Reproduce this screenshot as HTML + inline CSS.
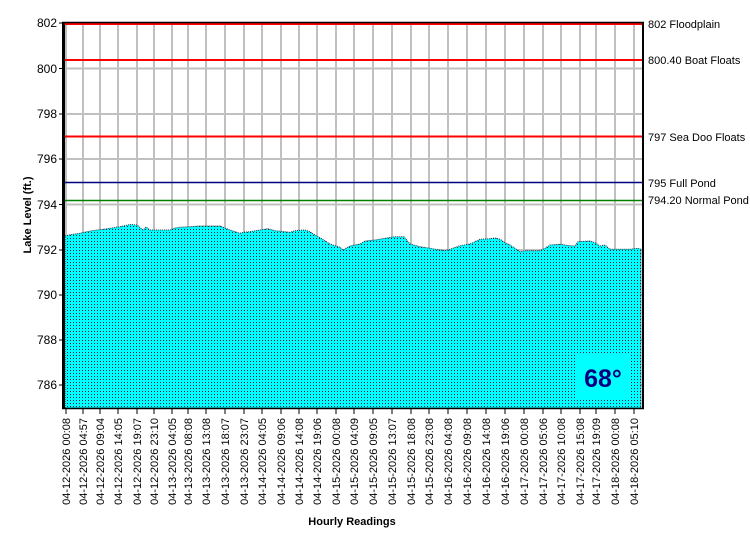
<!DOCTYPE html>
<html><head><meta charset="utf-8"><style>
html,body{margin:0;padding:0;background:#fff;}
svg{display:block;font-family:"Liberation Sans",Arial,sans-serif;}
</style></head><body>
<svg width="750" height="550" viewBox="0 0 750 550" xmlns="http://www.w3.org/2000/svg">
<defs>
<pattern id="dots" x="0" y="0" width="3" height="3" patternUnits="userSpaceOnUse">
<rect x="0" y="0" width="3" height="3" fill="#00ffff"/>
<rect x="1" y="1" width="1" height="1" fill="#102040"/>
</pattern>
</defs>
<!-- gridlines -->
<g stroke="#c0c0c0" stroke-width="2">
<line x1="64" y1="68.5" x2="642" y2="68.5"/>
<line x1="64" y1="114" x2="642" y2="114"/>
<line x1="64" y1="159" x2="642" y2="159"/>
<line x1="64" y1="204.5" x2="642" y2="204.5"/>
<line x1="64" y1="250" x2="642" y2="250"/>
<line x1="64" y1="295" x2="642" y2="295"/>
<line x1="64" y1="340" x2="642" y2="340"/>
<line x1="64" y1="385" x2="642" y2="385"/>
</g>
<g stroke="#c0c0c0" stroke-width="2">
<line x1="66" y1="23" x2="66" y2="408"/><line x1="83" y1="23" x2="83" y2="408"/><line x1="100" y1="23" x2="100" y2="408"/><line x1="118" y1="23" x2="118" y2="408"/><line x1="137" y1="23" x2="137" y2="408"/><line x1="154" y1="23" x2="154" y2="408"/><line x1="172" y1="23" x2="172" y2="408"/><line x1="188" y1="23" x2="188" y2="408"/><line x1="206" y1="23" x2="206" y2="408"/><line x1="225" y1="23" x2="225" y2="408"/><line x1="244" y1="23" x2="244" y2="408"/><line x1="262" y1="23" x2="262" y2="408"/><line x1="281" y1="23" x2="281" y2="408"/><line x1="299" y1="23" x2="299" y2="408"/><line x1="317" y1="23" x2="317" y2="408"/><line x1="336" y1="23" x2="336" y2="408"/><line x1="354" y1="23" x2="354" y2="408"/><line x1="373" y1="23" x2="373" y2="408"/><line x1="392" y1="23" x2="392" y2="408"/><line x1="411" y1="23" x2="411" y2="408"/><line x1="429" y1="23" x2="429" y2="408"/><line x1="448" y1="23" x2="448" y2="408"/><line x1="467" y1="23" x2="467" y2="408"/><line x1="486" y1="23" x2="486" y2="408"/><line x1="505" y1="23" x2="505" y2="408"/><line x1="524" y1="23" x2="524" y2="408"/><line x1="543" y1="23" x2="543" y2="408"/><line x1="561" y1="23" x2="561" y2="408"/><line x1="580" y1="23" x2="580" y2="408"/><line x1="596" y1="23" x2="596" y2="408"/><line x1="615" y1="23" x2="615" y2="408"/><line x1="634" y1="23" x2="634" y2="408"/>
</g>
<!-- area -->
<path fill="url(#dots)" stroke="#203040" stroke-width="1" stroke-dasharray="1,1" d="M65,408 L65,236 L70,234.7 L80,233.3 L90,231 L100,229.7 L110,228.3 L120,226.7 L130,224.5 L137,225 L143,230 L146,227 L150,230 L170,230 L175,228 L180,227.3 L190,226.7 L200,226 L220,226 L230,230 L240,233.3 L245,232 L250,231.7 L260,230 L268,228.7 L275,230.7 L290,232.3 L295,230.7 L305,230 L310,231.7 L315,235 L320,237.7 L330,244 L340,247.3 L343,250 L350,246 L360,244 L365,241 L375,240 L385,238.3 L395,236.7 L404,236.7 L410,244 L420,246.7 L430,248.3 L440,250 L445,250.7 L450,249.3 L460,245.7 L470,244 L480,239.3 L490,238.7 L495,238 L500,239.3 L505,242.7 L510,245 L515,248.3 L520,251.7 L525,250.7 L540,250.7 L545,248.3 L550,245 L560,244.3 L570,245.7 L575,246 L578,241.7 L590,241 L595,242.7 L600,246 L605,245 L610,249.3 L630,249.3 L638,248.3 L641,249.3 L641,408 Z"/>
<!-- reference lines -->
<line x1="64" y1="24" x2="642" y2="24" stroke="#ff0000" stroke-width="2"/>
<line x1="64" y1="60" x2="642" y2="60" stroke="#ff0000" stroke-width="2"/>
<line x1="64" y1="136.5" x2="642" y2="136.5" stroke="#ff0000" stroke-width="2"/>
<line x1="64" y1="182.5" x2="642" y2="182.5" stroke="#000080" stroke-width="1.5"/>
<line x1="64" y1="200.5" x2="642" y2="200.5" stroke="#008000" stroke-width="1.5"/>
<!-- temp box -->
<rect x="576" y="353" width="53" height="45" fill="#00ffff"/>
<text x="603" y="387" text-anchor="middle" font-size="25" font-weight="bold" fill="#000080">68°</text>
<!-- frame -->
<line x1="63.5" y1="22" x2="63.5" y2="409" stroke="#000" stroke-width="3"/>
<line x1="643" y1="22" x2="643" y2="409" stroke="#000" stroke-width="2"/>
<line x1="62" y1="22.5" x2="644" y2="22.5" stroke="#000" stroke-width="1.5"/>
<line x1="62" y1="408.5" x2="644" y2="408.5" stroke="#000" stroke-width="1.5"/>
<!-- y ticks -->
<g stroke="#000" stroke-width="1">
<line x1="59" y1="23" x2="62" y2="23"/><line x1="59" y1="68.5" x2="62" y2="68.5"/><line x1="59" y1="114" x2="62" y2="114"/><line x1="59" y1="159" x2="62" y2="159"/><line x1="59" y1="204.5" x2="62" y2="204.5"/><line x1="59" y1="250" x2="62" y2="250"/><line x1="59" y1="295" x2="62" y2="295"/><line x1="59" y1="340" x2="62" y2="340"/><line x1="59" y1="385" x2="62" y2="385"/>
</g>
<!-- x ticks -->
<g stroke="#000" stroke-width="1">
<path d="M66,409v5M83,409v5M100,409v5M118,409v5M137,409v5M154,409v5M172,409v5M188,409v5M206,409v5M225,409v5M244,409v5M262,409v5M281,409v5M299,409v5M317,409v5M336,409v5M354,409v5M373,409v5M392,409v5M411,409v5M429,409v5M448,409v5M467,409v5M486,409v5M505,409v5M524,409v5M543,409v5M561,409v5M580,409v5M596,409v5M615,409v5M634,409v5"/>
</g>
<!-- y labels -->
<g font-size="12" text-anchor="end" fill="#000">
<text x="57" y="27">802</text><text x="57" y="73">800</text><text x="57" y="118">798</text><text x="57" y="163">796</text><text x="57" y="209">794</text><text x="57" y="254">792</text><text x="57" y="299">790</text><text x="57" y="344">788</text><text x="57" y="389">786</text>
</g>
<!-- right labels -->
<g font-size="11" fill="#000">
<text x="648" y="28">802 Floodplain</text>
<text x="648" y="64">800.40 Boat Floats</text>
<text x="648" y="141">797 Sea Doo Floats</text>
<text x="648" y="187">795 Full Pond</text>
<text x="648" y="204">794.20 Normal Pond</text>
</g>
<!-- x labels -->
<g font-size="11" fill="#000" text-anchor="end">
<text transform="translate(70,418) rotate(-90)">04-12-2026 00:08</text>
<text transform="translate(87,418) rotate(-90)">04-12-2026 04:57</text>
<text transform="translate(104,418) rotate(-90)">04-12-2026 09:04</text>
<text transform="translate(122,418) rotate(-90)">04-12-2026 14:05</text>
<text transform="translate(141,418) rotate(-90)">04-12-2026 19:07</text>
<text transform="translate(158,418) rotate(-90)">04-12-2026 23:10</text>
<text transform="translate(176,418) rotate(-90)">04-13-2026 04:05</text>
<text transform="translate(192,418) rotate(-90)">04-13-2026 08:08</text>
<text transform="translate(210,418) rotate(-90)">04-13-2026 13:08</text>
<text transform="translate(229,418) rotate(-90)">04-13-2026 18:07</text>
<text transform="translate(248,418) rotate(-90)">04-13-2026 23:07</text>
<text transform="translate(266,418) rotate(-90)">04-14-2026 04:05</text>
<text transform="translate(285,418) rotate(-90)">04-14-2026 09:06</text>
<text transform="translate(303,418) rotate(-90)">04-14-2026 14:08</text>
<text transform="translate(321,418) rotate(-90)">04-14-2026 19:06</text>
<text transform="translate(340,418) rotate(-90)">04-15-2026 00:08</text>
<text transform="translate(358,418) rotate(-90)">04-15-2026 04:09</text>
<text transform="translate(377,418) rotate(-90)">04-15-2026 09:05</text>
<text transform="translate(396,418) rotate(-90)">04-15-2026 13:07</text>
<text transform="translate(415,418) rotate(-90)">04-15-2026 18:08</text>
<text transform="translate(433,418) rotate(-90)">04-15-2026 23:08</text>
<text transform="translate(452,418) rotate(-90)">04-16-2026 04:08</text>
<text transform="translate(471,418) rotate(-90)">04-16-2026 09:08</text>
<text transform="translate(490,418) rotate(-90)">04-16-2026 14:08</text>
<text transform="translate(509,418) rotate(-90)">04-16-2026 19:06</text>
<text transform="translate(528,418) rotate(-90)">04-17-2026 00:08</text>
<text transform="translate(547,418) rotate(-90)">04-17-2026 05:06</text>
<text transform="translate(565,418) rotate(-90)">04-17-2026 10:08</text>
<text transform="translate(584,418) rotate(-90)">04-17-2026 15:08</text>
<text transform="translate(600,418) rotate(-90)">04-17-2026 19:09</text>
<text transform="translate(619,418) rotate(-90)">04-18-2026 00:08</text>
<text transform="translate(638,418) rotate(-90)">04-18-2026 05:10</text>
</g>
<text x="352" y="525" font-size="11" font-weight="bold" text-anchor="middle">Hourly Readings</text>
<text transform="translate(31,215) rotate(-90)" font-size="11" font-weight="bold" text-anchor="middle">Lake Level (ft.)</text>
</svg>
</body></html>
